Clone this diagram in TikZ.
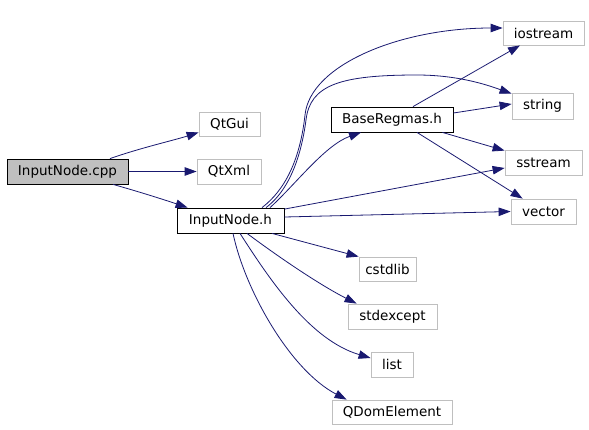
\documentclass[tikz,border=0pt]{standalone}
\usepackage{fontspec}
\setmainfont{DejaVu Sans}
\usetikzlibrary{arrows.meta}
\definecolor{edgeblue}{HTML}{191970}
\definecolor{boxgrey}{HTML}{BFBFBF}
\tikzset{
  box/.style={draw=boxgrey, line width=0.8pt, fill=white, inner sep=0pt, font=\fontsize{13.5}{15}\selectfont},
  mainbox/.style={box, draw=black},
  curbox/.style={box, draw=black, fill=boxgrey},
  dep/.style={draw=edgeblue, line width=0.8pt, -{Triangle[length=12pt,width=8.5pt]}, edgeblue},
}
\begin{document}
\begin{tikzpicture}[x=1pt,y=-1pt]
\useasboundingbox (0,0) rectangle (589,429);
% nodes
\node[curbox, minimum width=121pt, minimum height=25pt] (cpp) at (67.5,171.5) {InputNode.cpp};
\node[box, minimum width=61pt, minimum height=24pt] (qtgui) at (229.5,124) {QtGui};
\node[box, minimum width=64pt, minimum height=25pt] (qtxml) at (229,171.5) {QtXml};
\node[mainbox, minimum width=107pt, minimum height=25pt] (inh) at (230.5,220.5) {InputNode.h};
\node[box, minimum width=81pt, minimum height=24pt] (iostream) at (543.5,33) {iostream};
\node[box, minimum width=61pt, minimum height=26pt] (string) at (542.5,106) {string};
\node[mainbox, minimum width=122pt, minimum height=25pt] (base) at (392,119.5) {BaseRegmas.h};
\node[box, minimum width=77pt, minimum height=25pt] (sstream) at (543.5,162.5) {sstream};
\node[box, minimum width=65pt, minimum height=25pt] (vector) at (543.5,211.5) {vector};
\node[box, minimum width=57pt, minimum height=24pt] (cstdlib) at (387.5,269) {cstdlib};
\node[box, minimum width=89pt, minimum height=25pt] (stdexcept) at (392.5,316.5) {stdexcept};
\node[box, minimum width=42pt, minimum height=25pt] (list) at (392,364.5) {list};
\node[box, minimum width=120pt, minimum height=24pt] (qdom) at (392,412) {QDomElement};
% edges from InputNode.cpp
\draw[dep] ([xshift=42.5pt]cpp.north) .. controls (140,148) and (175,140) .. ([yshift=4pt]qtgui.south west);
\draw[dep] (cpp.east) -- (qtxml.west);
\draw[dep] ([xshift=45.5pt]cpp.south) .. controls (140,192) and (165,200) .. ([xshift=11pt]inh.north west);
% edges from InputNode.h
\draw[dep] ([xshift=31.5pt]inh.north) .. controls (285,190) and (300,160) .. (305,115) .. controls (310,65) and (400,28) .. ([yshift=5pt]iostream.west);
\draw[dep] ([xshift=35.5pt]inh.north) .. controls (292,188) and (302,150) .. (306,120) .. controls (310,85) and (340,75) .. (417,75) .. controls (460,75) and (490,86) .. ([yshift=-1pt]string.north west);
\draw[dep] ([xshift=39.5pt]inh.north) .. controls (295,185) and (325,145) .. ([xshift=-31pt]base.south);
\draw[dep] ([yshift=-1.5pt]inh.north east) -- ([yshift=-5.5pt]sstream.west);
\draw[dep] ([yshift=3.5pt]inh.east) -- (vector.west);
\draw[dep] ([xshift=41.5pt]inh.south) -- (cstdlib.north west);
\draw[dep] ([xshift=16.5pt]inh.south) .. controls (280,258) and (320,285) .. ([xshift=9pt]stdexcept.north west);
\draw[dep] ([xshift=9.5pt]inh.south) .. controls (270,280) and (310,340) .. ([yshift=6.5pt]list.west);
\draw[dep] ([xshift=2.5pt]inh.south) .. controls (245,290) and (290,370) .. ([xshift=15pt]qdom.north west);
% edges from BaseRegmas.h
\draw[dep] ([xshift=21pt]base.north) -- ([xshift=-23.5pt]iostream.south);
\draw[dep] ([yshift=6.5pt]base.east) -- ([yshift=2pt]string.west);
\draw[dep] ([xshift=-11pt]base.south east) -- ([yshift=-1pt]sstream.north west);
\draw[dep] ([xshift=25pt]base.south) -- ([xshift=12pt]vector.north west);
\end{tikzpicture}
\end{document}
